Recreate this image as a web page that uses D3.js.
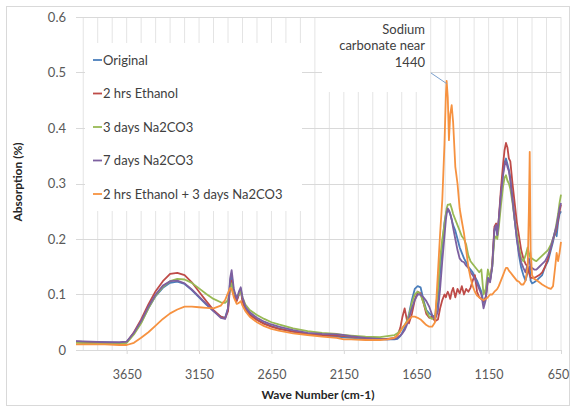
<!DOCTYPE html>
<html><head><meta charset="utf-8">
<script src="https://cdn.jsdelivr.net/npm/d3@7"></script>
<style>body{margin:0;background:#fff} svg{display:block} text{font-family:Lato,"Open Sans",sans-serif}</style>
</head><body><svg id="c" width="571" height="408"></svg>
<script>
const waveNumbers = [
4000,3900,3800,3700,3650,3600,3550,3500,3450,3400,
3350,3300,3250,3200,3150,3100,3050,3000,2970,2950,
2935,2925,2910,2890,2875,2862,2850,2830,2800,2750,
2700,2650,2600,2500,2400,2300,2200,2150,2100,2000,
1900,1850,1800,1780,1760,1745,1730,1715,1700,1680,
1660,1640,1620,1600,1580,1560,1540,1520,1500,1485,
1470,1455,1445,1440,1432,1424,1415,1405,1395,1380,
1365,1350,1335,1320,1305,1290,1275,1260,1245,1230,
1215,1200,1185,1170,1155,1140,1125,1110,1098,1090,
1080,1065,1050,1040,1030,1020,1010,1000,985,970,
955,940,925,910,895,880,872,866,860,850,
835,820,800,780,760,740,720,705,690,680,
670,660,650];
const original = [
.015,.014,.014,.013,.014,.030,.050,.075,.097,.112,
.121,.123,.119,.108,.095,.082,.070,.060,.058,.075,
.125,.135,.105,.090,.100,.110,.090,.075,.065,.055,
.048,.043,.039,.033,.029,.026,.024,.023,.022,.020,
.019,.019,.019,.020,.025,.032,.040,.050,.065,.090,
.110,.115,.113,.090,.072,.066,.062,.060,.085,.140,
.190,.230,.245,.250,.252,.250,.245,.235,.225,.215,
.200,.185,.175,.165,.158,.150,.145,.140,.132,.125,
.115,.105,.085,.095,.130,.125,.150,.215,.222,.207,
.230,.280,.320,.338,.345,.335,.325,.310,.275,.235,
.200,.170,.148,.135,.125,.140,.145,.150,.125,.120,
.122,.125,.130,.135,.150,.160,.180,.195,.215,.205,
.230,.245,.250];
const ethanol2h = [
.015,.014,.013,.013,.014,.032,.055,.082,.106,.124,
.137,.139,.135,.122,.105,.088,.072,.060,.057,.070,
.115,.125,.100,.088,.100,.108,.088,.072,.063,.054,
.047,.042,.038,.033,.029,.027,.026,.025,.024,.022,
.020,.020,.022,.026,.040,.060,.075,.055,.048,.065,
.090,.105,.102,.085,.065,.058,.060,.052,.055,.075,
.090,.100,.095,.100,.105,.100,.092,.105,.112,.095,
.110,.102,.115,.100,.110,.105,.112,.125,.135,.105,
.095,.092,.088,.095,.125,.125,.155,.222,.228,.210,
.235,.290,.335,.360,.373,.365,.345,.340,.300,.265,
.230,.205,.180,.165,.155,.150,.140,.135,.130,.130,
.130,.132,.135,.140,.150,.165,.185,.200,.210,.220,
.235,.250,.262];
const na2co3_3d = [
.013,.012,.012,.012,.013,.028,.048,.075,.098,.114,
.124,.128,.127,.121,.111,.101,.092,.086,.085,.090,
.110,.120,.105,.095,.100,.105,.095,.082,.072,.063,
.056,.050,.046,.039,.034,.031,.029,.027,.026,.024,
.023,.025,.027,.030,.035,.040,.045,.052,.062,.085,
.100,.105,.100,.085,.070,.060,.056,.060,.110,.165,
.200,.225,.245,.255,.262,.262,.263,.255,.245,.235,
.225,.215,.205,.200,.190,.170,.160,.155,.150,.145,
.140,.145,.100,.110,.145,.130,.150,.200,.205,.200,
.220,.260,.295,.310,.315,.305,.300,.290,.265,.235,
.210,.185,.165,.160,.170,.185,.175,.170,.165,.165,
.162,.160,.165,.170,.175,.180,.190,.200,.215,.230,
.245,.265,.280];
const na2co3_7d = [
.016,.015,.014,.014,.015,.031,.052,.078,.100,.116,
.124,.125,.120,.109,.096,.083,.070,.058,.056,.075,
.130,.144,.110,.092,.105,.113,.095,.078,.068,.058,
.051,.046,.042,.036,.031,.029,.028,.027,.025,.022,
.020,.019,.020,.022,.026,.030,.036,.045,.058,.075,
.090,.100,.100,.095,.088,.078,.063,.055,.070,.110,
.160,.205,.235,.245,.255,.252,.245,.235,.220,.200,
.180,.165,.160,.158,.152,.148,.140,.135,.128,.120,
.110,.100,.075,.090,.130,.122,.150,.218,.225,.207,
.235,.280,.315,.332,.340,.330,.322,.305,.270,.235,
.200,.175,.158,.148,.140,.155,.165,.160,.145,.148,
.145,.145,.150,.155,.160,.170,.185,.200,.215,.225,
.240,.255,.265];
const ethanolPlusNa2co3 = [
.010,.010,.010,.009,.009,.013,.022,.032,.044,.056,
.066,.073,.078,.078,.077,.076,.075,.080,.090,.103,
.112,.110,.095,.083,.085,.088,.080,.070,.060,.050,
.043,.038,.035,.030,.027,.024,.022,.019,.019,.018,
.018,.019,.022,.026,.033,.040,.045,.050,.055,.060,
.060,.058,.055,.050,.045,.042,.042,.050,.140,.210,
.270,.370,.460,.485,.455,.378,.425,.441,.410,.330,
.300,.255,.232,.210,.180,.150,.130,.115,.105,.098,
.095,.092,.090,.092,.095,.100,.100,.105,.108,.110,
.115,.125,.135,.142,.148,.148,.143,.140,.135,.130,
.125,.123,.118,.118,.125,.150,.250,.357,.180,.135,
.128,.126,.122,.118,.115,.112,.110,.115,.150,.175,
.160,.175,.195];

const seriesNames = ["Original","2 hrs Ethanol","3 days Na2CO3","7 days Na2CO3","2 hrs Ethanol + 3 days Na2CO3"];
const seriesValues = [original, ethanol2h, na2co3_3d, na2co3_7d, ethanolPlusNa2co3];
const seriesColors = ["#4A7EBB","#BE4B48","#98B954","#7D60A0","#F69240"];
const yTicks = [0,0.1,0.2,0.3,0.4,0.5,0.6];
const xTickLabels = [3650,3150,2650,2150,1650,1150,650];
const annotationLines = ["Sodium","carbonate near","1440"];

const svg = d3.select("#c");
const x = d3.scaleLinear().domain([4000,650]).range([76,561]);
const y = d3.scaleLinear().domain([0,0.6]).range([350,17]);

svg.append("rect").attr("x",6.5).attr("y",6.5).attr("width",563).attr("height",399)
  .attr("fill","#fff").attr("stroke","#d9d9d9");

svg.append("g").selectAll("line").data(d3.range(650,4000,100)).join("line")
  .attr("x1",d=>x(d)).attr("x2",d=>x(d)).attr("y1",y(0.6)).attr("y2",y(0))
  .attr("stroke","#e4e4e4").attr("stroke-width",1);
svg.append("g").selectAll("line").data(yTicks).join("line")
  .attr("x1",x(4000)).attr("x2",x(650)).attr("y1",d=>Math.round(y(d))+0.5).attr("y2",d=>Math.round(y(d))+0.5)
  .attr("stroke","#d9d9d9").attr("stroke-width",1);

const yAxis = svg.append("g").attr("transform",`translate(${x(4000)},0)`)
  .call(d3.axisLeft(y).tickValues(yTicks).tickSize(0).tickPadding(10).tickFormat(d=>d===0?"0":d3.format(".1f")(d)));
yAxis.select(".domain").remove();
yAxis.selectAll("text").attr("font-size",13).attr("fill","#595959").attr("font-family","Lato,'Open Sans',sans-serif");

const xAxis = svg.append("g").attr("transform",`translate(0,${y(0)})`)
  .call(d3.axisBottom(x).tickValues(xTickLabels).tickSize(4).tickPadding(16).tickFormat(d3.format("d")));
xAxis.select(".domain").remove();
xAxis.selectAll("line").attr("stroke","#d9d9d9");
xAxis.selectAll("text").attr("font-size",12.5).attr("fill","#595959").attr("font-family","Lato,'Open Sans',sans-serif")
  .attr("dx",d=>d===650?"-3":"0");

const line = d3.line().x((d,i)=>x(waveNumbers[i])).y(d=>y(d));
svg.append("g").selectAll("path").data(seriesValues).join("path")
  .attr("d",d=>line(d)).attr("fill","none")
  .attr("stroke",(d,i)=>seriesColors[i]).attr("stroke-width",1.8).attr("stroke-linejoin","round");

svg.append("rect").attr("x",85).attr("y",43).attr("width",217).attr("height",168).attr("fill","#fff");
const lg = svg.append("g").selectAll("g").data(seriesNames).join("g")
  .attr("transform",(d,i)=>`translate(93,${60+i*33.5})`);
lg.append("line").attr("x1",0).attr("x2",9).attr("stroke",(d,i)=>seriesColors[i]).attr("stroke-width",1.8);
lg.append("text").attr("x",10).attr("dy","0.35em").attr("font-size",13).attr("fill","#404040").text(d=>d);

svg.append("rect").attr("x",322).attr("y",18).attr("width",108).attr("height",74).attr("fill","#fff");
svg.append("g").selectAll("text").data(annotationLines).join("text")
  .attr("x",425).attr("y",(d,i)=>29+i*16.5).attr("dy","0.35em").attr("text-anchor","end")
  .attr("font-size",13).attr("fill","#404040").text(d=>d);
svg.append("line").attr("x1",431).attr("y1",73).attr("x2",x(1440)).attr("y2",y(0.48))
  .attr("stroke","#7BA0CD").attr("stroke-width",1);

svg.append("text").attr("transform","translate(18,182) rotate(-90)").attr("text-anchor","middle")
  .attr("dy","0.35em").attr("font-size",12).attr("font-weight","bold").attr("fill","#262626").text("Absorption (%)");
svg.append("text").attr("x",318).attr("y",395).attr("text-anchor","middle")
  .attr("dy","0.35em").attr("font-size",12).attr("font-weight","bold").attr("fill","#262626").text("Wave Number (cm-1)");
</script></body></html>
